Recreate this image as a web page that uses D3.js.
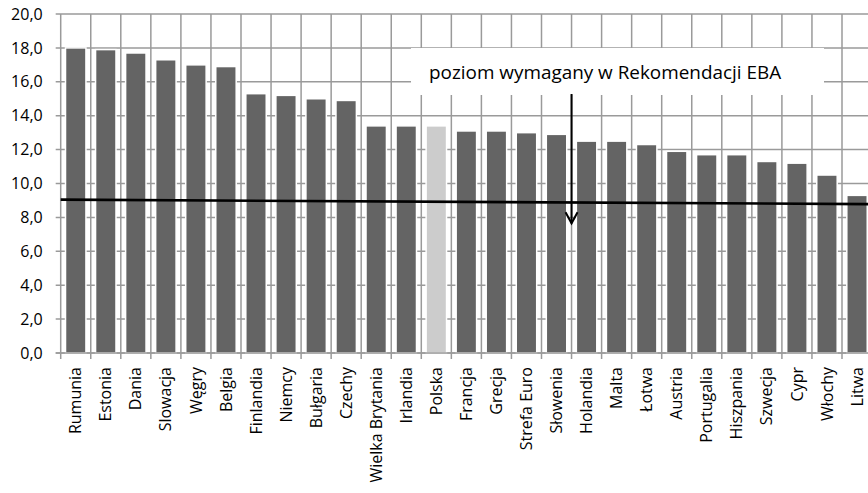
<!DOCTYPE html>
<html>
<head>
<meta charset="utf-8">
<script src="https://cdnjs.cloudflare.com/ajax/libs/d3/7.8.5/d3.min.js"></script>
<style>
  body { margin: 0; background: #fff; }
  svg { display: block; font-family: "Open Sans", Lato, sans-serif; }
</style>
</head>
<body>
<div id="chart"></div>
<script>
// Data
const countries = ["Rumunia", "Estonia", "Dania", "Slowacja", "Węgry", "Belgia", "Finlandia",
  "Niemcy", "Bułgaria", "Czechy", "Wielka Brytania", "Irlandia", "Polska", "Francja", "Grecja",
  "Strefa Euro", "Słowenia", "Holandia", "Malta", "Łotwa", "Austria", "Portugalia", "Hiszpania",
  "Szwecja", "Cypr", "Włochy", "Litwa"];
const values = [18.0, 17.9, 17.7, 17.3, 17.0, 16.9, 15.3, 15.2, 15.0, 14.9, 13.4, 13.4, 13.4,
  13.1, 13.1, 13.0, 12.9, 12.5, 12.5, 12.3, 11.9, 11.7, 11.7, 11.3, 11.2, 10.5, 9.3];
const highlight = "Polska";
const yTicks = [0, 2, 4, 6, 8, 10, 12, 14, 16, 18, 20];
// required level line: value at left edge and right edge of the plot
const ebaLine = [9.05, 8.78];
const noteText = "poziom wymagany w Rekomendacji EBA";
const arrowAt = "Holandia"; // arrow sits at this category's left boundary
const arrowTip = 7.65;

const width = 868, height = 493;
const plotLeft = 60.7, plotTop = 14, plotBottom = 353;
const step = 30.05;

const svg = d3.select("#chart").append("svg")
  .attr("width", width)
  .attr("height", height);

const x = d3.scaleBand()
  .domain(countries)
  .range([plotLeft, plotLeft + step * countries.length])
  .padding(0);

const y = d3.scaleLinear()
  .domain([0, 20])
  .range([plotBottom, plotTop]);

const gridColor = "#9a9a9a";

// horizontal gridlines
svg.append("g")
  .selectAll("line")
  .data(yTicks)
  .join("line")
  .attr("x1", plotLeft - 5)
  .attr("x2", x.range()[1])
  .attr("y1", d => y(d))
  .attr("y2", d => y(d))
  .attr("stroke", gridColor)
  .attr("stroke-width", 1.5);

// vertical gridlines at category boundaries (with ticks below axis)
svg.append("g")
  .selectAll("line")
  .data(countries)
  .join("line")
  .attr("x1", d => x(d))
  .attr("x2", d => x(d))
  .attr("y1", plotTop)
  .attr("y2", plotBottom + 6)
  .attr("stroke", gridColor)
  .attr("stroke-width", 1.5);

// y tick labels
svg.append("g")
  .selectAll("text")
  .data(yTicks)
  .join("text")
  .attr("x", plotLeft - 18)
  .attr("y", d => y(d))
  .attr("dy", "0.35em")
  .attr("text-anchor", "end")
  .attr("font-size", 16)
  .attr("fill", "#000")
  .text(d => d3.format(".1f")(d).replace(".", ","));

// bars
const barW = x.bandwidth() * 0.68;
svg.append("g")
  .selectAll("rect")
  .data(countries)
  .join("rect")
  .attr("x", d => x(d) + (x.bandwidth() - barW) / 2)
  .attr("y", (d, i) => y(values[i]))
  .attr("width", barW)
  .attr("height", (d, i) => y(0) - y(values[i]))
  .attr("fill", d => d === highlight ? "#cccccc" : "#646464")
  .attr("stroke", "#fff")
  .attr("stroke-width", 1.5);

// redraw horizontal gridline at 0 on top of bars
svg.append("line")
  .attr("x1", plotLeft - 5)
  .attr("x2", x.range()[1])
  .attr("y1", y(0))
  .attr("y2", y(0))
  .attr("stroke", gridColor)
  .attr("stroke-width", 1.5);

// x labels, rotated
svg.append("g")
  .selectAll("text")
  .data(countries)
  .join("text")
  .attr("transform", d => `translate(${x(d) + x.bandwidth() / 2},${plotBottom + 14}) rotate(-90)`)
  .attr("dy", "0.35em")
  .attr("text-anchor", "end")
  .attr("font-size", 16)
  .attr("fill", "#000")
  .text(d => d);

// EBA line
svg.append("path")
  .datum(ebaLine)
  .attr("d", d3.line()
    .x((d, i) => x.range()[i])
    .y(d => y(d)))
  .attr("fill", "none")
  .attr("stroke", "#000")
  .attr("stroke-width", 2.6);

// note box
svg.append("rect")
  .attr("x", 411)
  .attr("y", 48)
  .attr("width", 413)
  .attr("height", 47)
  .attr("fill", "#fff");

svg.append("text")
  .attr("x", 429)
  .attr("y", 79)
  .attr("font-size", 18.9)
  .attr("fill", "#000")
  .text(noteText);

// arrow
const ax = x(arrowAt);
svg.append("line")
  .attr("x1", ax).attr("x2", ax)
  .attr("y1", 94).attr("y2", y(arrowTip))
  .attr("stroke", "#000")
  .attr("stroke-width", 2);
svg.append("path")
  .attr("d", `M${ax - 6},${y(arrowTip) - 11} L${ax},${y(arrowTip)} L${ax + 6},${y(arrowTip) - 11}`)
  .attr("fill", "none")
  .attr("stroke", "#000")
  .attr("stroke-width", 2);
</script>
</body>
</html>
